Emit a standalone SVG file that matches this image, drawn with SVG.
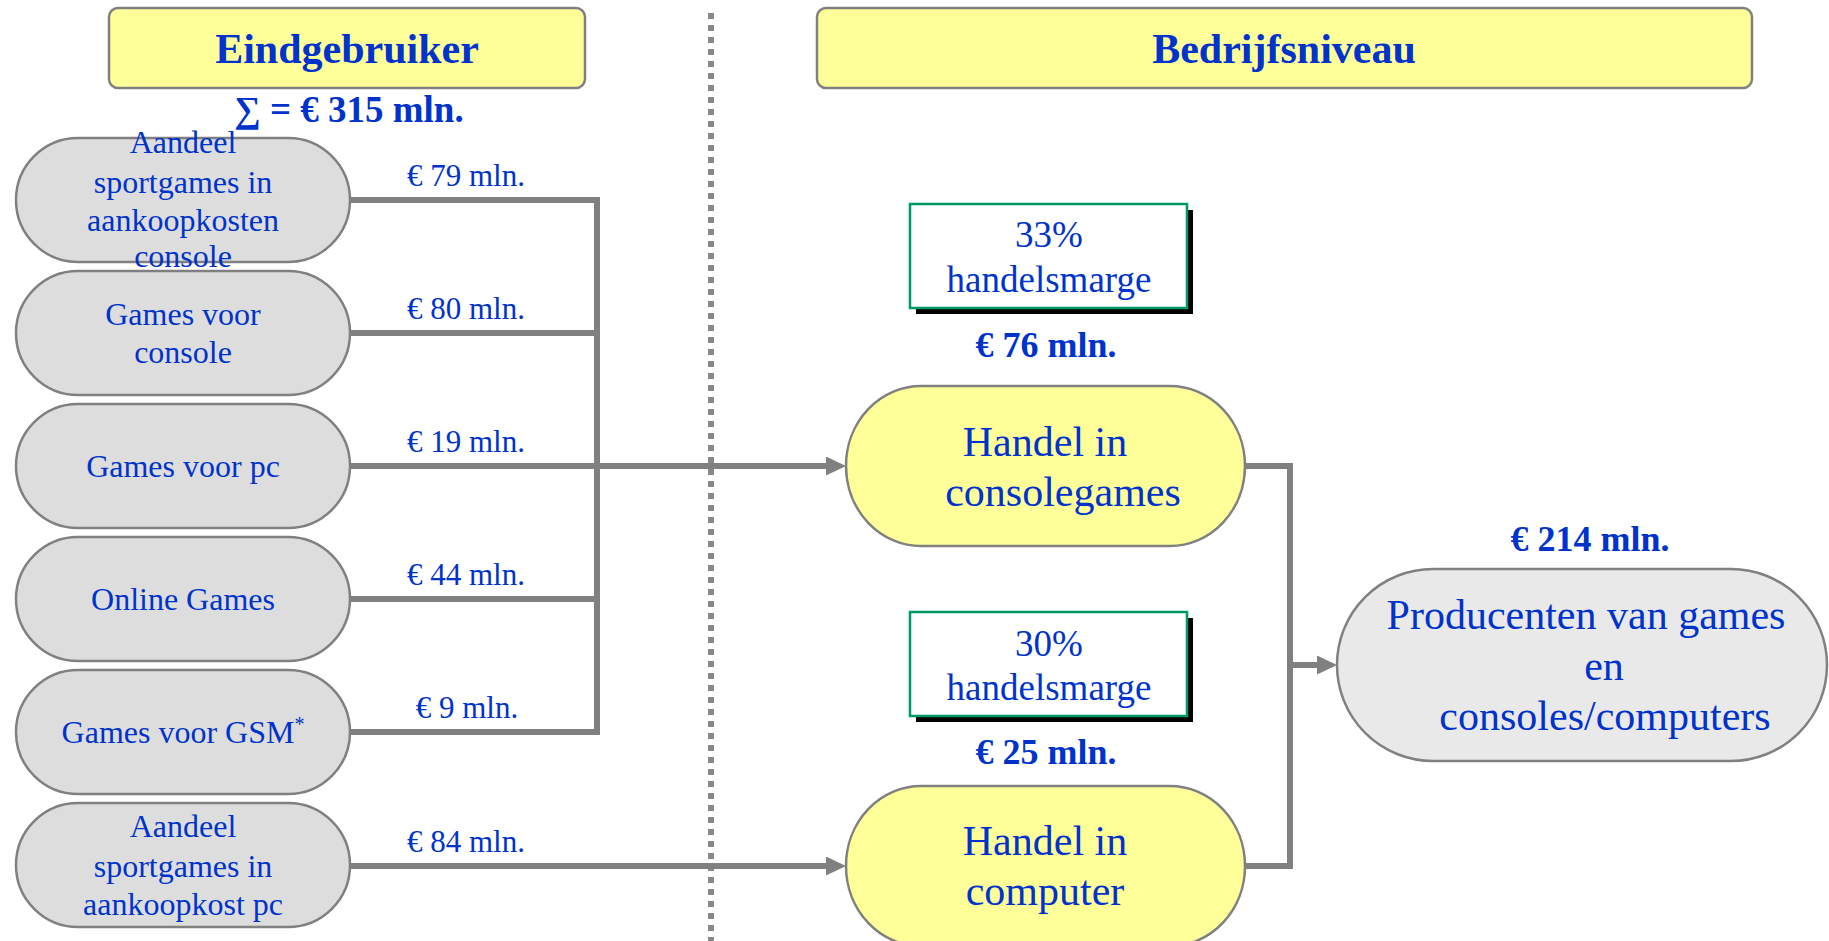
<svg xmlns="http://www.w3.org/2000/svg" width="1829" height="941" viewBox="0 0 1829 941">
<style>
text{font-family:"Liberation Serif","Times New Roman",serif;fill:#0033cc;text-anchor:middle}
.title{font-size:42px;font-weight:bold}
.sum{font-size:37px;font-weight:bold}
.nt{font-size:32px}
.lbl{font-size:31px}
.big{font-size:42px}
.mt{font-size:37px}
.amt{font-size:36px;font-weight:bold}
.gray{fill:#dddddd;stroke:#808080;stroke-width:2.5}
.yel{fill:#ffff99;stroke:#808080;stroke-width:2.5}
.prod{fill:#e9e9e9;stroke:#808080;stroke-width:2.5}
.hdr{fill:#ffff99;stroke:#808080;stroke-width:2.5}
.conn{fill:none;stroke:#808080;stroke-width:6;stroke-linejoin:miter}
.mbox{fill:#ffffff;stroke:#009966;stroke-width:2.5}
</style>
<defs>
<marker id="arr" markerUnits="userSpaceOnUse" markerWidth="20" markerHeight="19" refX="1" refY="9.5" orient="auto">
<path d="M0,0 L20,9.5 L0,19 z" fill="#808080"/>
</marker>
</defs>
<rect width="1829" height="941" fill="#ffffff"/>

<line x1="711" y1="13" x2="711" y2="941" stroke="#888888" stroke-width="6" stroke-dasharray="6 6"/>

<g id="hdr-eind">
<rect class="hdr" x="109" y="8" width="476" height="80" rx="9"/>
<text class="title" x="347" y="63">Eindgebruiker</text>
</g>
<g id="hdr-bedrijf">
<rect class="hdr" x="817" y="8" width="935" height="80" rx="9"/>
<text class="title" x="1284" y="63">Bedrijfsniveau</text>
</g>
<g id="sum">
<text class="sum" x="349" y="122">∑ = € 315 mln.</text>
</g>

<g id="connectors">
<path class="conn" d="M350 200 H597 V732 H350"/>
<path class="conn" d="M350 333 H597"/>
<path class="conn" d="M350 599 H597"/>
<path class="conn" d="M350 466 H827" marker-end="url(#arr)"/>
<path class="conn" d="M350 866 H827" marker-end="url(#arr)"/>
<path class="conn" d="M1245 466 H1290 V866 H1245"/>
<path class="conn" d="M1290 665 H1318" marker-end="url(#arr)"/>
<text class="lbl" x="466" y="186">€ 79 mln.</text>
<text class="lbl" x="466" y="319">€ 80 mln.</text>
<text class="lbl" x="466" y="452">€ 19 mln.</text>
<text class="lbl" x="466" y="585">€ 44 mln.</text>
<text class="lbl" x="467" y="718">€ 9 mln.</text>
<text class="lbl" x="466" y="852">€ 84 mln.</text>
</g>

<g id="n1">
<rect class="gray" x="16" y="138" width="334" height="124" rx="62" ry="62"/>
<text class="nt" x="183" y="153">Aandeel</text>
<text class="nt" x="183" y="193">sportgames in</text>
<text class="nt" x="183" y="231">aankoopkosten</text>
<text class="nt" x="183" y="267">console</text>
</g>
<g id="n2">
<rect class="gray" x="16" y="271" width="334" height="124" rx="62" ry="62"/>
<text class="nt" x="183" y="325">Games voor</text>
<text class="nt" x="183" y="363">console</text>
</g>
<g id="n3">
<rect class="gray" x="16" y="404" width="334" height="124" rx="62" ry="62"/>
<text class="nt" x="183" y="477">Games voor pc</text>
</g>
<g id="n4">
<rect class="gray" x="16" y="537" width="334" height="124" rx="62" ry="62"/>
<text class="nt" x="183" y="610">Online Games</text>
</g>
<g id="n5">
<rect class="gray" x="16" y="670" width="334" height="124" rx="62" ry="62"/>
<text class="nt" x="183" y="743">Games voor GSM<tspan font-size="20" dy="-12">*</tspan></text>
</g>
<g id="n6">
<rect class="gray" x="16" y="803" width="334" height="124" rx="62" ry="62"/>
<text class="nt" x="183" y="837">Aandeel</text>
<text class="nt" x="183" y="877">sportgames in</text>
<text class="nt" x="183" y="915">aankoopkost pc</text>
</g>

<g id="marge33">
<rect x="916" y="210" width="277" height="104" fill="#000000"/>
<rect class="mbox" x="910" y="204" width="277" height="104"/>
<text class="mt" x="1049" y="247">33%</text>
<text class="mt" x="1049" y="292">handelsmarge</text>
<text class="amt" x="1046" y="357">€ 76 mln.</text>
</g>
<g id="marge30">
<rect x="916" y="618" width="277" height="104" fill="#000000"/>
<rect class="mbox" x="910" y="612" width="277" height="104"/>
<text class="mt" x="1049" y="656">30%</text>
<text class="mt" x="1049" y="700">handelsmarge</text>
<text class="amt" x="1046" y="764">€ 25 mln.</text>
</g>

<g id="handel-console">
<rect class="yel" x="846" y="386" width="399" height="160" rx="75" ry="80"/>
<text class="big" x="1045" y="456">Handel in</text>
<text class="big" x="1063" y="506">consolegames</text>
</g>
<g id="handel-computer">
<rect class="yel" x="846" y="786" width="399" height="160" rx="75" ry="80"/>
<text class="big" x="1045" y="855">Handel in</text>
<text class="big" x="1045" y="905">computer</text>
</g>
<g id="producenten">
<text class="amt" x="1590" y="551">€ 214 mln.</text>
<rect class="prod" x="1337" y="569" width="490" height="192" rx="96" ry="96"/>
<text class="big" x="1586" y="629">Producenten van games</text>
<text class="big" x="1604" y="680">en</text>
<text class="big" x="1605" y="730">consoles/computers</text>
</g>
</svg>
